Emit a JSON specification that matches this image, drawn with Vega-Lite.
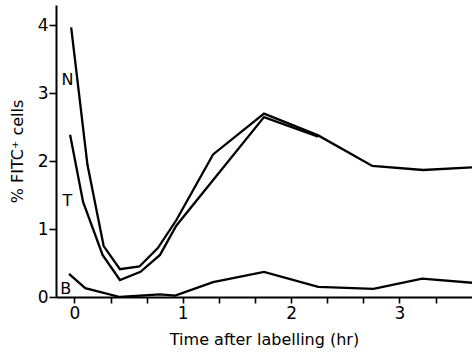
{
  "$schema": "https://vega.github.io/schema/vega-lite/v6.json",
  "width": 416,
  "height": 292,
  "autosize": "none",
  "padding": {"left": 56, "top": 5, "right": 0, "bottom": 55},
  "background": "white",
  "config": {
    "view": {"stroke": null},
    "font": "DejaVu Sans",
    "axis": {"grid": false, "domainColor": "black", "tickColor": "black", "labelColor": "black", "titleColor": "black", "domainWidth": 2, "tickWidth": 1.6, "labelFont": "DejaVu Sans", "titleFont": "DejaVu Sans", "labelFontSize": 17, "titleFontSize": 16, "titleFontWeight": "normal"}
  },
  "datasets": {
    "lines": [
      {"series": "N", "t": -0.03, "v": 3.97},
      {"series": "N", "t": 0.12, "v": 1.95},
      {"series": "N", "t": 0.27, "v": 0.75},
      {"series": "N", "t": 0.42, "v": 0.41},
      {"series": "N", "t": 0.6, "v": 0.45},
      {"series": "N", "t": 0.77, "v": 0.72},
      {"series": "N", "t": 0.94, "v": 1.13},
      {"series": "N", "t": 1.28, "v": 2.1},
      {"series": "N", "t": 1.75, "v": 2.7},
      {"series": "N", "t": 2.25, "v": 2.38},
      {"series": "N", "t": 2.75, "v": 1.93},
      {"series": "N", "t": 3.22, "v": 1.87},
      {"series": "N", "t": 3.67, "v": 1.91},
      {"series": "T", "t": -0.04, "v": 2.39},
      {"series": "T", "t": 0.08, "v": 1.4},
      {"series": "T", "t": 0.26, "v": 0.62},
      {"series": "T", "t": 0.42, "v": 0.25},
      {"series": "T", "t": 0.61, "v": 0.37},
      {"series": "T", "t": 0.79, "v": 0.62},
      {"series": "T", "t": 0.94, "v": 1.05},
      {"series": "T", "t": 1.75, "v": 2.65},
      {"series": "T", "t": 2.25, "v": 2.36},
      {"series": "B", "t": -0.05, "v": 0.34},
      {"series": "B", "t": 0.1, "v": 0.13},
      {"series": "B", "t": 0.42, "v": 0.0},
      {"series": "B", "t": 0.79, "v": 0.04},
      {"series": "B", "t": 0.93, "v": 0.02},
      {"series": "B", "t": 1.28, "v": 0.22},
      {"series": "B", "t": 1.75, "v": 0.37},
      {"series": "B", "t": 2.25, "v": 0.15},
      {"series": "B", "t": 2.76, "v": 0.12},
      {"series": "B", "t": 3.21, "v": 0.27},
      {"series": "B", "t": 3.67, "v": 0.21}
    ],
    "labels": [
      {"label": "N", "t": -0.065, "v": 3.19},
      {"label": "T", "t": -0.065, "v": 1.42},
      {"label": "B", "t": -0.08, "v": 0.12}
    ]
  },
  "layer": [
    {
      "data": {"name": "lines"},
      "mark": {"type": "line", "color": "black", "strokeWidth": 2.3, "clip": true},
      "encoding": {
        "x": {"field": "t", "type": "quantitative", "scale": {"domain": [-0.17, 3.67], "nice": false, "zero": false},
              "axis": {"title": "Time after labelling (hr)", "values": [0, 0.1667, 0.3333, 0.5, 0.6667, 0.8333, 1, 1.1667, 1.3333, 1.5, 1.6667, 1.8333, 2, 2.1667, 2.3333, 2.5, 2.6667, 2.8333, 3, 3.1667, 3.3333, 3.5], "labelExpr": "datum.value % 1 === 0 ? format(datum.value, 'd') : ''", "ticks": true, "tickSize": 6, "labelPadding": 2, "titlePadding": 10}},
        "y": {"field": "v", "type": "quantitative", "scale": {"domain": [0, 4.3], "nice": false},
              "axis": {"title": "% FITC⁺ cells", "values": [0, 1, 2, 3, 4], "format": "d", "ticks": true, "tickSize": 7, "labelPadding": 1, "titlePadding": 12}},
        "detail": {"field": "series"},
        "order": {"field": "t"}
      }
    },
    {
      "data": {"name": "labels"},
      "mark": {"type": "text", "color": "black", "fontSize": 16, "font": "DejaVu Sans"},
      "encoding": {
        "x": {"field": "t", "type": "quantitative"},
        "y": {"field": "v", "type": "quantitative"},
        "text": {"field": "label"}
      }
    }
  ]
}
